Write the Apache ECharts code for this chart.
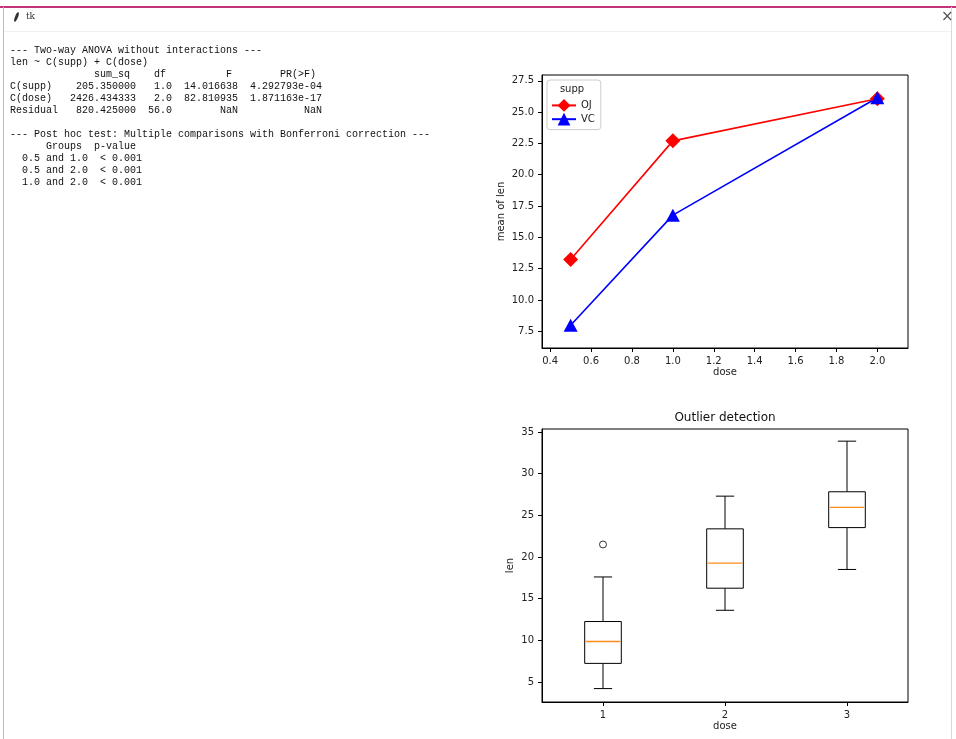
<!DOCTYPE html>
<html>
<head>
<meta charset="utf-8">
<script src="https://cdn.jsdelivr.net/npm/echarts@6/dist/echarts.min.js"></script>
<style>
html,body{margin:0;padding:0;background:#fff;width:956px;height:739px;overflow:hidden;}
#chart{position:absolute;left:0;top:0;width:956px;height:739px;}
.chrome{position:absolute;z-index:5;}
#topline{left:0;top:6px;width:956px;height:2px;background:#c2357a;}
#leftline{left:3px;top:7px;width:1px;height:732px;background:#c9b3c0;}
#rightline{left:951px;top:7px;width:1px;height:732px;background:#d9d9d9;}
#sep{left:4px;top:31px;width:947px;height:1px;background:#f0f0f0;}
#feather{left:15px;top:12px;width:3px;height:10px;background:#333;transform:rotate(22deg);border-radius:50%;}
#tk{left:26px;top:11px;font:9px 'DejaVu Serif',serif;color:#333;}
#close{left:941px;top:7px;font:15px 'DejaVu Sans',sans-serif;color:#555;}
</style>
</head>
<body>
<div id="chart"></div>
<div class="chrome" id="topline"></div>
<div class="chrome" id="leftline"></div>
<div class="chrome" id="rightline"></div>
<div class="chrome" id="sep"></div>
<div class="chrome" id="feather"></div>
<div class="chrome" id="tk">tk</div>
<div class="chrome" id="close">×</div>
<script>
// ---- Data ----
const doses = [0.5, 1.0, 2.0];
const ojMeans = [13.23, 22.70, 26.06];
const vcMeans = [7.98, 16.77, 26.14];
const lineXTicks = [0.4, 0.6, 0.8, 1.0, 1.2, 1.4, 1.6, 1.8, 2.0];
const lineYTicks = [7.5, 10.0, 12.5, 15.0, 17.5, 20.0, 22.5, 25.0, 27.5];

const boxPositions = [1, 2, 3];
const boxMin = [4.2, 13.6, 18.5];
const boxQ1 = [7.225, 16.25, 23.525];
const boxMedian = [9.85, 19.25, 25.95];
const boxQ3 = [12.25, 23.375, 27.825];
const boxMax = [17.6, 27.3, 33.9];
const outliers = [[1, 21.5]];
const boxXTicks = [1, 2, 3];
const boxYTicks = [5, 10, 15, 20, 25, 30, 35];

const reportLines = [
  '--- Two-way ANOVA without interactions ---',
  'len ~ C(supp) + C(dose)',
  '              sum_sq    df          F        PR(>F)',
  'C(supp)    205.350000   1.0  14.016638  4.292793e-04',
  'C(dose)   2426.434333   2.0  82.810935  1.871163e-17',
  'Residual   820.425000  56.0        NaN           NaN',
  '',
  '--- Post hoc test: Multiple comparisons with Bonferroni correction ---',
  '      Groups  p-value',
  '  0.5 and 1.0  < 0.001',
  '  0.5 and 2.0  < 0.001',
  '  1.0 and 2.0  < 0.001'
];

// ---- Chart ----
const FONT = 'DejaVu Sans';
const TXT = '#222';
const chart = echarts.init(document.getElementById('chart'), null, {renderer: 'canvas'});

function axisCommon(ticks, fmt) {
  return {
    axisLine: {show: true, onZero: false, lineStyle: {color: '#000', width: 1}},
    axisTick: {show: true, length: 4, customValues: ticks, lineStyle: {color: '#000', width: 1}},
    axisLabel: {customValues: ticks, formatter: fmt, fontSize: 10, fontFamily: FONT, color: TXT},
    splitLine: {show: false},
    nameTextStyle: {fontSize: 10, fontFamily: FONT, color: TXT}
  };
}

function renderBox(params, api) {
  const pos = api.value(0);
  const pMin = api.coord([pos, api.value(1)]);
  const pQ1 = api.coord([pos, api.value(2)]);
  const pMed = api.coord([pos, api.value(3)]);
  const pQ3 = api.coord([pos, api.value(4)]);
  const pMax = api.coord([pos, api.value(5)]);
  const w = api.size([0.3, 0])[0];
  const hw = w / 2, hc = w / 4;
  const cx = pMed[0];
  const ls = {stroke: '#000', lineWidth: 1};
  return {
    type: 'group',
    children: [
      {type: 'line', shape: {x1: cx, y1: pQ1[1], x2: cx, y2: pMin[1]}, style: ls},
      {type: 'line', shape: {x1: cx, y1: pQ3[1], x2: cx, y2: pMax[1]}, style: ls},
      {type: 'line', shape: {x1: cx - hc, y1: pMin[1], x2: cx + hc, y2: pMin[1]}, style: ls},
      {type: 'line', shape: {x1: cx - hc, y1: pMax[1], x2: cx + hc, y2: pMax[1]}, style: ls},
      {type: 'rect', shape: {x: cx - hw, y: pQ3[1], width: w, height: pQ1[1] - pQ3[1]},
        style: {fill: '#fff', stroke: '#000', lineWidth: 1}},
      {type: 'line', shape: {x1: cx - hw + 1, y1: pMed[1], x2: cx + hw - 1, y2: pMed[1]},
        style: {stroke: '#ff8c1a', lineWidth: 1.3}}
    ]
  };
}

const option = {
  animation: false,
  backgroundColor: 'transparent',
  grid: [
    {left: 542, top: 75, width: 366, height: 273, show: true, borderColor: '#000', borderWidth: 1, backgroundColor: 'transparent'},
    {left: 542, top: 429, width: 366, height: 273, show: true, borderColor: '#000', borderWidth: 1, backgroundColor: 'transparent'}
  ],
  xAxis: [
    Object.assign({type: 'value', gridIndex: 0, min: 0.36, max: 2.15,
      name: 'dose', nameLocation: 'middle', nameGap: 19}, axisCommon(lineXTicks, v => v.toFixed(1))),
    Object.assign({type: 'value', gridIndex: 1, min: 0.5, max: 3.5,
      name: 'dose', nameLocation: 'middle', nameGap: 19}, axisCommon(boxXTicks, v => String(v)))
  ],
  yAxis: [
    Object.assign({type: 'value', gridIndex: 0, min: 6.16, max: 27.96,
      name: 'mean of len', nameLocation: 'middle', nameGap: 36, nameRotate: 90}, axisCommon(lineYTicks, v => v.toFixed(1))),
    Object.assign({type: 'value', gridIndex: 1, min: 2.59, max: 35.36,
      name: 'len', nameLocation: 'middle', nameGap: 27, nameRotate: 90}, axisCommon(boxYTicks, v => String(v)))
  ],
  legend: {
    data: ['OJ', 'VC'],
    orient: 'vertical',
    left: 547, top: 80,
    padding: [19, 6, 4, 4],
    itemGap: 1,
    itemWidth: 24, itemHeight: 16,
    borderColor: '#cccccc', borderWidth: 1, borderRadius: 3,
    backgroundColor: 'rgba(255,255,255,0.8)',
    selectedMode: false,
    textStyle: {fontSize: 10, fontFamily: FONT, color: TXT}
  },
  graphic: [
    {type: 'text', left: 10, top: 44, silent: true,
      style: {text: reportLines.join('\n'), font: "10px 'Liberation Mono', monospace", lineHeight: 12, fill: '#111'}},
    {type: 'text', x: 572, y: 89, silent: true, z: 100,
      style: {text: 'supp', font: "10px 'DejaVu Sans'", fill: TXT, textAlign: 'center', textVerticalAlign: 'middle'}},
    {type: 'text', x: 725, y: 418, silent: true,
      style: {text: 'Outlier detection', font: "12px 'DejaVu Sans'", fill: '#111', textAlign: 'center', textVerticalAlign: 'middle'}}
  ],
  series: [
    {
      type: 'line', name: 'OJ', xAxisIndex: 0, yAxisIndex: 0,
      data: doses.map((d, i) => [d, ojMeans[i]]),
      symbol: 'diamond', symbolSize: [15, 15],
      lineStyle: {color: '#ff0000', width: 1.6},
      itemStyle: {color: '#ff0000'}
    },
    {
      type: 'line', name: 'VC', xAxisIndex: 0, yAxisIndex: 0,
      data: doses.map((d, i) => [d, vcMeans[i]]),
      symbol: 'triangle', symbolSize: [14, 13],
      lineStyle: {color: '#0000ff', width: 1.6},
      itemStyle: {color: '#0000ff'}
    },
    {
      type: 'custom', name: 'box', xAxisIndex: 1, yAxisIndex: 1,
      data: boxPositions.map((p, i) => [p, boxMin[i], boxQ1[i], boxMedian[i], boxQ3[i], boxMax[i]]),
      encode: {x: 0, y: [1, 2, 3, 4, 5]},
      renderItem: renderBox
    },
    {
      type: 'scatter', name: 'outlier', xAxisIndex: 1, yAxisIndex: 1,
      data: outliers, symbol: 'circle', symbolSize: 7,
      itemStyle: {color: '#fff', borderColor: '#000', borderWidth: 1}
    }
  ]
};
chart.setOption(option);
</script>
</body>
</html>
